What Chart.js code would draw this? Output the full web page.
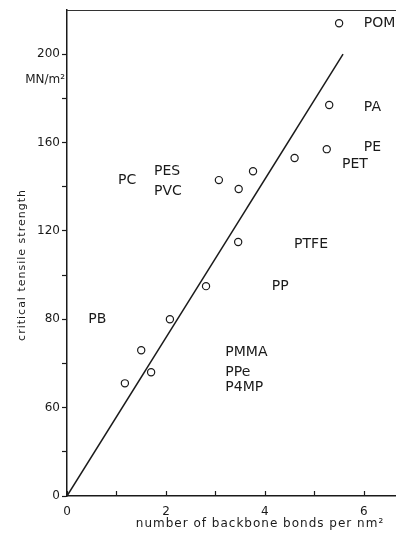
<!DOCTYPE html>
<html>
<head>
<meta charset="utf-8">
<script src="https://cdn.jsdelivr.net/npm/chart.js@4"></script>
<style>
  html, body { margin: 0; padding: 0; background: #fff; }
  #wrap { width: 396px; height: 536px; }
</style>
</head>
<body>
<div id="wrap"><canvas id="chart" width="396" height="536"></canvas></div>
<script>
// measured points (bonds per nm^2, MN/m^2)
const bondsX = [1.17, 1.5, 1.7, 2.08, 2.81, 3.07, 3.46, 3.47, 3.76, 4.6, 5.25, 5.3, 5.5];
const strengthY = [51, 66, 56, 80, 95, 143, 115, 139, 147, 153, 157, 177, 214];
const fitX = [0, 5.58];
const fitY = [0, 200];

// polymer names and where they sit (data units)
const polyNames = ['POM', 'PA', 'PE', 'PET', 'PTFE', 'PP', 'PMMA', 'PPe', 'P4MP', 'PB', 'PC', 'PES', 'PVC'];
const polyX = [6.0, 6.0, 6.0, 5.56, 4.59, 4.14, 3.2, 3.2, 3.2, 0.43, 1.03, 1.76, 1.76];
const polyY = [214, 176, 158, 150, 114, 95, 65, 56, 49, 80, 143, 147, 138];

// ticks (the printed figure labels the 40 mark as "60")
const xTickValues = [0, 1, 2, 3, 4, 5, 6];
const xTickLabels = ['0', '', '2', '', '4', '', '6'];
const yTickValues = [0, 20, 40, 60, 80, 100, 120, 140, 160, 180, 200];
const yTickLabels = ['0', '', '60', '', '80', '', '120', '', '160', '', '200'];

const ink = '#1a1a1a';
const tickFont = { family: 'DejaVu Sans', size: 12 };

const annotate = {
    id: 'annotate',
    afterDraw(chart) {
        const ctx = chart.ctx;
        const xs = chart.scales.x, ys = chart.scales.y;
        const area = chart.chartArea;
        ctx.save();
        // top frame line
        ctx.strokeStyle = '#333';
        ctx.lineWidth = 1;
        ctx.beginPath();
        ctx.moveTo(area.left, area.top + 0.5);
        ctx.lineTo(area.right, area.top + 0.5);
        ctx.stroke();
        // x ticks point inward
        ctx.strokeStyle = ink;
        ctx.lineWidth = 1.2;
        xTickValues.forEach(v => {
            const px = Math.round(xs.getPixelForValue(v)) + 0.5;
            ctx.beginPath();
            ctx.moveTo(px, area.bottom);
            ctx.lineTo(px, area.bottom - 5);
            ctx.stroke();
        });
        // polymer names
        ctx.fillStyle = ink;
        ctx.font = '14px "DejaVu Sans"';
        ctx.textBaseline = 'middle';
        ctx.textAlign = 'left';
        polyNames.forEach((n, i) => {
            ctx.fillText(n, xs.getPixelForValue(polyX[i]), ys.getPixelForValue(polyY[i]));
        });
        // unit under the 200 tick
        ctx.font = '12px "DejaVu Sans"';
        ctx.textAlign = 'right';
        ctx.fillText('MN/m²', area.left - 2, ys.getPixelForValue(200) + 26);
        // axis titles
        ctx.letterSpacing = '1px';
        ctx.textAlign = 'center';
        ctx.fillText('number of backbone bonds per nm²', 260, 524);
        ctx.font = '11px "DejaVu Sans"';
        ctx.translate(22, 265);
        ctx.rotate(-Math.PI / 2);
        ctx.fillText('critical tensile strength', 0, 0);
        ctx.restore();
    }
};

document.addEventListener('DOMContentLoaded', function() {
    const chartCanvas = document.querySelector('#chart');
    const chartContext = chartCanvas.getContext('2d');
    new Chart(chartContext, {
        type: 'scatter',
        data: {
            datasets: [
                {
                    label: 'polymers',
                    data: bondsX.map((x, i) => ({ x: x, y: strengthY[i] })),
                    pointRadius: 3.6,
                    pointBackgroundColor: 'rgba(0,0,0,0)',
                    pointBorderColor: ink,
                    pointBorderWidth: 1.2,
                    clip: false
                },
                {
                    label: 'fit',
                    data: fitX.map((x, i) => ({ x: x, y: fitY[i] })),
                    showLine: true,
                    borderColor: ink,
                    borderWidth: 1.5,
                    pointRadius: 0
                }
            ]
        },
        options: {
            responsive: false,
            animation: false,
            layout: { autoPadding: false, padding: { top: 10, right: 0, left: 0, bottom: 0 } },
            plugins: { legend: { display: false }, tooltip: { enabled: false } },
            scales: {
                x: {
                    type: 'linear',
                    min: 0,
                    max: 6.65,
                    afterBuildTicks: s => { s.ticks = xTickValues.map(v => ({ value: v })); },
                    afterFit: s => { s.height = 40; s.paddingLeft = 0; s.paddingRight = 0; },
                    grid: { display: true, drawOnChartArea: false, drawTicks: false },
                    border: { color: ink, width: 1.5 },
                    ticks: {
                        padding: 9,
                        color: ink,
                        font: tickFont,
                        maxRotation: 0,
                        autoSkip: false,
                        callback: v => xTickLabels[xTickValues.indexOf(v)] ?? ''
                    }
                },
                y: {
                    min: 0,
                    max: 220,
                    afterBuildTicks: s => { s.ticks = yTickValues.map(v => ({ value: v })); },
                    afterFit: s => { s.width = 67; s.paddingTop = 0; s.paddingBottom = 0; },
                    grid: { drawOnChartArea: false, tickLength: 5, color: ink, tickWidth: 1.2 },
                    border: { color: ink, width: 1.5 },
                    ticks: {
                        padding: 2,
                        color: ink,
                        font: tickFont,
                        autoSkip: false,
                        callback: v => yTickLabels[yTickValues.indexOf(v)] ?? ''
                    }
                }
            }
        },
        plugins: [annotate]
    });
});
</script>
</body>
</html>
